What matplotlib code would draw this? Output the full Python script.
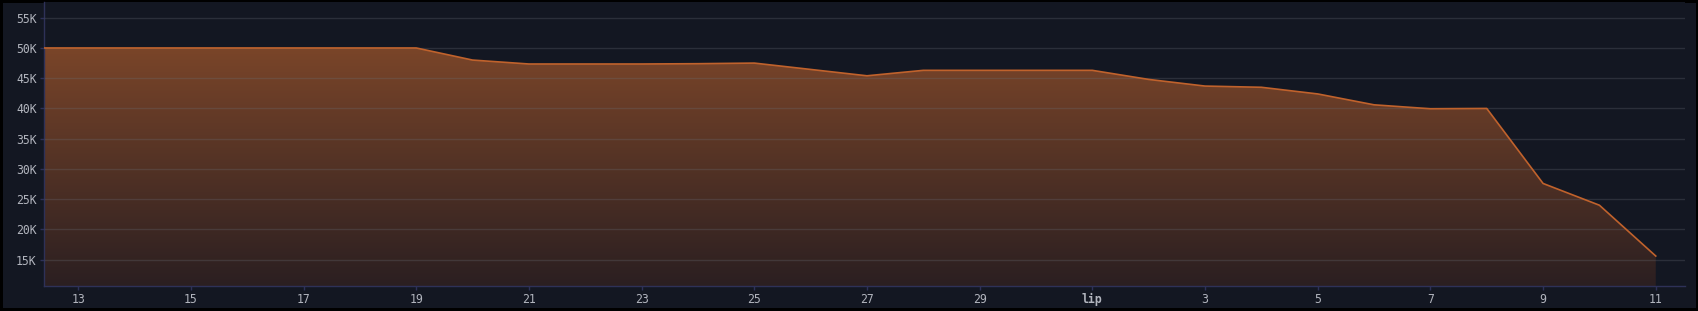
import numpy as np
import matplotlib
matplotlib.use('Agg')
import matplotlib.pyplot as plt
from matplotlib.colors import LinearSegmentedColormap
from matplotlib.ticker import FuncFormatter

# day number counted from 1 June (July d -> 30 + d)
days = list(range(12, 42))
values = [50000, 50000, 50000, 50000, 50000, 50000, 50000, 50000,
          48000, 47350, 47350, 47350, 47400, 47500, 46450, 45400,
          46300, 46300, 46300, 46300, 44800, 43700, 43500, 42400,
          40600, 39950, 40000, 27600, 24000, 15600]
tick_pos = [13, 15, 17, 19, 21, 23, 25, 27, 29, 31, 33, 35, 37, 39, 41]
tick_labels = ['13', '15', '17', '19', '21', '23', '25', '27', '29', 'lip',
               '3', '5', '7', '9', '11']
y_ticks = [15000, 20000, 25000, 30000, 35000, 40000, 45000, 50000, 55000]

bg = '#131722'
fig = plt.figure(figsize=(16.99, 3.11), dpi=100, facecolor=bg)
fig.patch.set_edgecolor('black')
fig.patch.set_linewidth(4)
ax = fig.add_axes([0.0261, 0.0804, 0.9657, 0.9132])
ax.set_facecolor(bg)

ymin, ymax = 10650, 57600
ax.set_xlim(12.4, 41.52)
ax.set_ylim(ymin, ymax)

# gradient fill under the line
poly = ax.fill_between(days, values, ymin, color='none', lw=0)
cmap = LinearSegmentedColormap.from_list('g', ['#2b1f21', '#7a4529'])
grad = np.linspace(0, 1, 256).reshape(-1, 1)
top = max(values)
img = ax.imshow(grad, cmap=cmap, aspect='auto', origin='lower',
                extent=[days[0], days[-1], ymin, top], zorder=1)
img.set_clip_path(poly.get_paths()[0], transform=ax.transData)
ax.plot(days, values, color='#c0622c', lw=1.2, zorder=3)

ax.set_yticks(y_ticks)
ax.yaxis.set_major_formatter(FuncFormatter(lambda v, p: '%dK' % (v / 1000)))
ax.set_xticks(tick_pos)
ax.set_xticklabels(tick_labels)

ax.grid(axis='y', color='#6b6f7a', alpha=0.28, lw=1, zorder=2)
ax.set_axisbelow(False)
for s in ['top', 'right']:
    ax.spines[s].set_visible(False)
for s in ['left', 'bottom']:
    ax.spines[s].set_color('#2e3158')
    ax.spines[s].set_linewidth(1)
ax.tick_params(axis='y', colors='#b2b5be', labelsize=8.3, length=3, width=1, pad=2.5)
ax.tick_params(axis='x', colors='#b2b5be', labelsize=8.3, length=3, width=1, pad=7)
ax.tick_params(axis='both', color='#2e3158')
for lab in ax.get_xticklabels() + ax.get_yticklabels():
    lab.set_family('DejaVu Sans Mono')
    lab.set_color('#b2b5be')
for lab in ax.get_xticklabels():
    lab.set_verticalalignment('center')
    if lab.get_text() == 'lip':
        lab.set_fontweight('bold')

fig.savefig('out.png', dpi=100, facecolor=bg, edgecolor='black')
